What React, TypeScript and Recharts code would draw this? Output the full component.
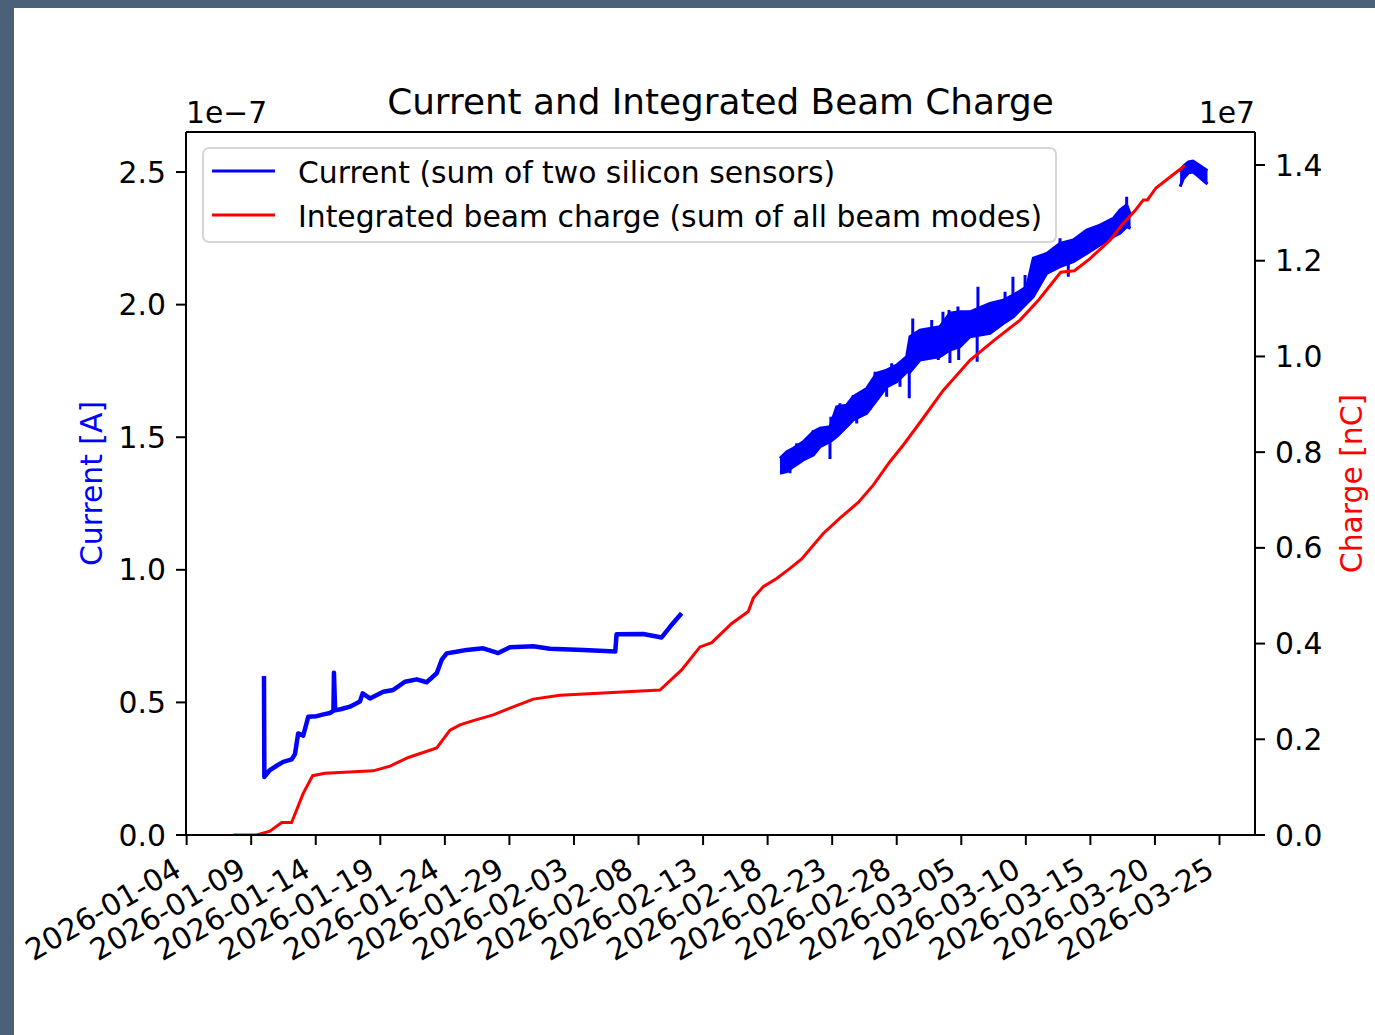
import React from "react";
import {
  ComposedChart,
  Line,
  Area,
  XAxis,
  YAxis,
  Legend,
  ReferenceLine,
} from "recharts";

const FONT = '"DejaVu Sans", sans-serif';
const BLUE = "#0000ff";
const RED = "#ff0000";
const FS = 29.8;

// x values are days since 2026-01-04
const xTicks = [0, 5, 10, 15, 20, 25, 30, 35, 40, 45, 50, 55, 60, 65, 70, 75, 80];
const xTickLabels = [
  "2026-01-04", "2026-01-09", "2026-01-14", "2026-01-19", "2026-01-24", "2026-01-29",
  "2026-02-03", "2026-02-08", "2026-02-13", "2026-02-18", "2026-02-23", "2026-02-28",
  "2026-03-05", "2026-03-10", "2026-03-15", "2026-03-20", "2026-03-25",
];
const currentTicks = [0, 0.5, 1.0, 1.5, 2.0, 2.5]; // x 1e-7 A
const chargeTicks = [0, 0.2, 0.4, 0.6, 0.8, 1.0, 1.2, 1.4]; // x 1e7 nC

// integrated beam charge (1e7 nC)
const chargeDays = [
  3.61, 5.42, 6.45, 7.36, 8.13, 9.03, 9.76, 10.71, 14.45, 15.75, 17.17, 19.37, 20.4, 21.17,
  22.2, 23.75, 25.04, 26.85, 28.92, 36.66, 38.34, 39.76, 40.67, 42.22, 43.5, 43.89, 44.66,
  45.7, 46.73, 47.64, 49.31, 50.6, 52.02, 53.18, 54.47, 55.51, 56.8, 58.6, 60.67, 62.56,
  64.55, 65.99, 67.7, 68.76, 69.95, 71.52, 72.45, 73.5, 74.1, 74.42, 75.08, 77.32,
];
const chargeValues = [
  0, 0, 0.008, 0.026, 0.026, 0.087, 0.124, 0.129, 0.134, 0.144, 0.162, 0.182, 0.219, 0.23,
  0.239, 0.251, 0.265, 0.284, 0.292, 0.303, 0.345, 0.393, 0.402, 0.442, 0.467, 0.495, 0.519,
  0.536, 0.557, 0.577, 0.63, 0.662, 0.695, 0.731, 0.78, 0.815, 0.862, 0.929, 0.992, 1.034,
  1.076, 1.118, 1.176, 1.179, 1.204, 1.243, 1.275, 1.306, 1.327, 1.327, 1.352, 1.399,
];

// current, first run (1e-7 A)
const run1Days = [
  5.99, 6.02, 6.45, 7.0, 7.48, 8.13, 8.39, 8.64, 9.03, 9.42, 10.07, 10.6, 11.1, 11.37, 11.41,
  11.5, 12.0, 12.65, 13.42, 13.63, 14.2, 15.23, 16.0, 16.91, 17.82, 18.59, 19.37, 19.75,
  20.14, 21.0, 21.69, 22.97, 24.14, 25.04, 26.85, 28.14, 30.72, 33.2, 33.3, 35.37, 36.79,
  37.44, 38.34,
];
const run1Values = [
  0.6, 0.219, 0.245, 0.262, 0.276, 0.285, 0.305, 0.383, 0.375, 0.446, 0.448, 0.455, 0.46,
  0.468, 0.612, 0.47, 0.475, 0.484, 0.503, 0.534, 0.515, 0.54, 0.547, 0.578, 0.587, 0.576,
  0.61, 0.66, 0.685, 0.692, 0.698, 0.704, 0.686, 0.708, 0.712, 0.702, 0.698, 0.692, 0.757,
  0.758, 0.745, 0.785, 0.836,
];

// current, second run: noise band envelope
const run2Days = [
  45.96, 46.48, 46.99, 47.76, 48.54, 49.06, 49.83, 50.35, 51.12, 51.63, 52.67, 53.45, 54.22,
  55.0, 55.77, 56.03, 56.8, 58.35, 59.12, 59.9, 60.67, 62.22, 63.25, 64.03, 65.07, 65.58,
  66.62, 67.65, 68.68, 69.71, 70.74, 71.77, 72.29, 72.81, 73.11,
];
const run2Low = [
  1.364, 1.37, 1.389, 1.414, 1.433, 1.464, 1.483, 1.502, 1.54, 1.565, 1.59, 1.64, 1.69, 1.709,
  1.746, 1.746, 1.791, 1.804, 1.829, 1.841, 1.879, 1.892, 1.929, 1.954, 2.005, 2.03, 2.118,
  2.143, 2.162, 2.193, 2.225, 2.256, 2.269, 2.294, 2.288,
];
const run2High = [
  1.42, 1.445, 1.458, 1.483, 1.521, 1.534, 1.54, 1.615, 1.621, 1.653, 1.684, 1.741, 1.753,
  1.772, 1.804, 1.879, 1.904, 1.917, 1.968, 1.973, 1.973, 2.005, 2.017, 2.036, 2.067, 2.175,
  2.193, 2.231, 2.244, 2.281, 2.3, 2.325, 2.357, 2.376, 2.338,
];
// single-sample spikes in the second run
const spikeDays = [
  46.35, 46.73, 47.25, 47.76, 48.54, 49.83, 49.9, 50.6, 51.12, 51.63, 51.9, 52.67, 52.93,
  53.32, 54.22, 54.61, 55.25, 55.97, 56.24, 57.71, 58.22, 58.58, 59.05, 59.12, 59.74, 59.8,
  60.42, 61.23, 61.29, 62.22, 63.39, 64.0, 64.94, 67.65, 68.29, 72.81,
];
const spikeBase = [
  1.4, 1.4, 1.43, 1.45, 1.48, 1.51, 1.51, 1.56, 1.58, 1.6, 1.61, 1.64, 1.65,
  1.69, 1.72, 1.74, 1.74, 1.78, 1.85, 1.86, 1.86, 1.87, 1.9, 1.9, 1.91, 1.91,
  1.92, 1.93, 1.93, 1.95, 1.97, 1.99, 2.04, 2.19, 2.19, 2.33,
];
const spikeTip = [
  1.439, 1.364, 1.477, 1.414, 1.527, 1.418, 1.577, 1.628, 1.546, 1.659, 1.552, 1.684, 1.603,
  1.747, 1.653, 1.779, 1.69, 1.647, 1.948, 1.942, 1.791, 1.973, 1.98, 1.78, 1.993, 1.791,
  1.967, 1.785, 2.067, 1.995, 2.049, 2.105, 2.112, 2.25, 2.105, 2.407,
];

// current, third run
const run3Days = [76.95, 77.2, 77.6, 77.95, 78.35, 78.75, 79.07];
const run3Low = [2.445, 2.475, 2.497, 2.5, 2.485, 2.468, 2.455];
const run3High = [2.5, 2.522, 2.538, 2.541, 2.528, 2.515, 2.505];

const chargeData = chargeDays.map((d, i) => ({ day: d, charge: chargeValues[i] }));
const run1Data = run1Days.map((d, i) => ({ day: d, current: run1Values[i] }));
const run2Data = run2Days.map((d, i) => ({ day: d, band: [run2Low[i], run2High[i]] }));
const run3Data = run3Days.map((d, i) => ({ day: d, band: [run3Low[i], run3High[i]] }));
const spikeData = spikeDays.flatMap((d, i) => [
  { day: d, current: spikeBase[i] },
  { day: d, current: spikeTip[i] },
  { day: d, current: null },
]);

// eslint-disable-next-line @typescript-eslint/no-explicit-any
function DateTick({ x, y, payload }: any) {
  const label = xTickLabels[xTicks.indexOf(payload.value)];
  const px = x - 3.5;
  const py = y + 30;
  return (
    <text
      x={px}
      y={py}
      transform={`rotate(-30, ${px}, ${py})`}
      textAnchor="end"
      fontSize={FS}
      fontFamily={FONT}
      fill="#000"
    >
      {label}
    </text>
  );
}

function BeamLegend() {
  return (
    <svg width={855} height={96} style={{ display: "block" }}>
      <rect x={1} y={1} width={853} height={94} rx={6} fill="#fff" fillOpacity={0.8} stroke="#d6d6d6" strokeWidth={2} />
      <line x1={10} x2={73} y1={24} y2={24} stroke={BLUE} strokeWidth={3} />
      <text x={96} y={35.5} fontSize={FS} fontFamily={FONT} fill="#000">
        Current (sum of two silicon sensors)
      </text>
      <line x1={10} x2={73} y1={68} y2={68} stroke={RED} strokeWidth={3} />
      <text x={96} y={79.5} fontSize={FS} fontFamily={FONT} fill="#000">
        Integrated beam charge (sum of all beam modes)
      </text>
    </svg>
  );
}

const axisStyle = { stroke: "#000", strokeWidth: 2 };
const tickStyle = { fill: "#000", fontSize: FS, fontFamily: FONT };

export default function App() {
  return (
    <div style={{ position: "absolute", left: 0, top: 0, width: 1375, height: 1035, background: "#4b6079" }}>
      <div style={{ position: "absolute", left: 14, top: 8, width: 1361, height: 1027, background: "#fff" }}>
        <ComposedChart width={1361} height={1027} margin={{ top: 124, right: 0, bottom: 0, left: 0 }}>
          <XAxis
            dataKey="day"
            type="number"
            domain={[-0.05, 82.75]}
            allowDataOverflow
            ticks={xTicks}
            interval={0}
            height={200}
            tickSize={10}
            tickMargin={0}
            tick={<DateTick />}
            axisLine={axisStyle}
            tickLine={axisStyle}
          />
          <YAxis
            yAxisId="cur"
            orientation="left"
            type="number"
            width={172}
            domain={[0, 2.651]}
            allowDataOverflow
            ticks={currentTicks}
            interval={0}
            tickFormatter={(v: number) => v.toFixed(1)}
            tick={tickStyle}
            tickSize={10}
            tickMargin={10}
            axisLine={axisStyle}
            tickLine={axisStyle}
          />
          <YAxis
            yAxisId="chg"
            orientation="right"
            type="number"
            width={120}
            domain={[0, 1.469]}
            allowDataOverflow
            ticks={chargeTicks}
            interval={0}
            tickFormatter={(v: number) => v.toFixed(1)}
            tick={tickStyle}
            tickSize={10}
            tickMargin={10}
            axisLine={axisStyle}
            tickLine={axisStyle}
          />
          {/* top spine */}
          <ReferenceLine yAxisId="cur" y={2.651} stroke="#000" strokeWidth={2} ifOverflow="visible" />

          <Line
            yAxisId="cur"
            data={run1Data}
            dataKey="current"
            type="linear"
            stroke={BLUE}
            strokeWidth={4.5}
            strokeLinejoin="round"
            dot={false}
            isAnimationActive={false}
          />
          <Area
            yAxisId="cur"
            data={run2Data}
            dataKey="band"
            type="linear"
            stroke={BLUE}
            strokeWidth={3}
            fill={BLUE}
            fillOpacity={1}
            dot={false}
            activeDot={false}
            isAnimationActive={false}
          />
          <Line
            yAxisId="cur"
            data={spikeData}
            dataKey="current"
            type="linear"
            stroke={BLUE}
            strokeWidth={3}
            dot={false}
            connectNulls={false}
            isAnimationActive={false}
          />
          <Area
            yAxisId="cur"
            data={run3Data}
            dataKey="band"
            type="linear"
            stroke={BLUE}
            strokeWidth={3}
            fill={BLUE}
            fillOpacity={1}
            dot={false}
            activeDot={false}
            isAnimationActive={false}
          />
          <Line
            yAxisId="chg"
            data={chargeData}
            dataKey="charge"
            type="linear"
            stroke={RED}
            strokeWidth={3}
            dot={false}
            isAnimationActive={false}
          />

          <Legend
            layout="horizontal"
            verticalAlign="middle"
            align="center"
            content={<BeamLegend />}
            wrapperStyle={{ left: 188, top: 139, width: 855, height: 96 }}
          />
        </ComposedChart>

        <svg
          width={1361}
          height={1027}
          style={{ position: "absolute", left: 0, top: 0, pointerEvents: "none" }}
          fontFamily={FONT}
        >
          <text x={706.5} y={106} textAnchor="middle" fontSize={35.8} fill="#000">
            Current and Integrated Beam Charge
          </text>
          <text x={172} y={114.5} textAnchor="start" fontSize={FS} fill="#000">
            1e−7
          </text>
          <text x={1241} y={114.5} textAnchor="end" fontSize={FS} fill="#000">
            1e7
          </text>
          <text x={87.5} y={475.5} textAnchor="middle" fontSize={FS} fill={BLUE} transform="rotate(-90, 87.5, 475.5)">
            Current [A]
          </text>
          <text x={1348} y={475.5} textAnchor="middle" fontSize={FS} fill={RED} transform="rotate(-90, 1348, 475.5)">
            Charge [nC]
          </text>
        </svg>
      </div>
    </div>
  );
}
